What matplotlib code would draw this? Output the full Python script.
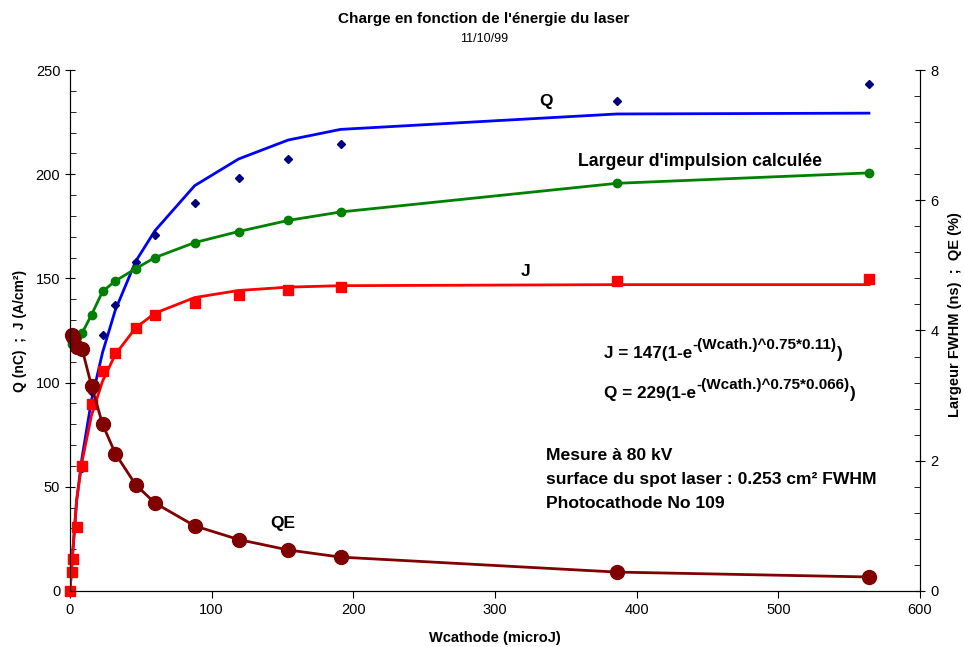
import numpy as np
import matplotlib
matplotlib.use("Agg")
import matplotlib.pyplot as plt
from matplotlib.ticker import MultipleLocator

plt.rcParams['font.family'] = ['Liberation Sans', 'DejaVu Sans']

# energie cathode (microJ)
w = [0, 1.2, 2.2, 4.7, 8.5, 15.2, 23, 32, 46.4, 60, 88, 119, 154, 191, 386, 564]

# charge mesuree Q (nC) et courbe d'ajustement
q_mes = [0, 9, 15, 30, 59, 95.6, 122.8, 137, 158, 171, 186.3, 198.2, 207.3, 214.5, 235, 243.3]
q_fit = [0, 11.3, 20.5, 43.5, 64, 91.6, 114.5, 134.8, 158.2, 172.9, 194.5, 207.3, 216.4, 221.5, 228.9, 229.3]

# densite de courant J (A/cm2) et ajustement
j_mes = [0, 9.3, 15.5, 30.9, 60, 89.7, 105.7, 114, 126.3, 132.6, 138, 142.2, 144.4, 145.9, 148.7, 149.7]
j_fit = [0, 11.9, 21.3, 43.5, 62, 84.3, 100.7, 113.5, 126.3, 133.3, 140.8, 144.2, 145.8, 146.5, 147, 147]

# axe de droite : largeur FWHM (ns) et QE (%)
w2 = w[1:]
largeur = [3.80, 3.84, 3.90, 3.96, 4.24, 4.60, 4.76, 4.95, 5.12, 5.35, 5.52, 5.69, 5.82, 6.26, 6.42]
qe = [3.93, 3.90, 3.75, 3.72, 3.15, 2.56, 2.11, 1.63, 1.35, 1.0, 0.79, 0.63, 0.52, 0.29, 0.215]

fig = plt.figure(figsize=(9.64, 6.47), dpi=100)
ax = fig.add_axes([0.0726, 0.0866, 0.8817, 0.8052])
ax2 = ax.twinx()

ax.plot(w, q_fit, color='#0000FF', lw=2, zorder=3)
ax.plot(w, q_mes, ls='none', marker='D', ms=4.5, color='#000080', zorder=4, clip_on=False)
ax.plot(w, j_fit, color='#FF0000', lw=2, zorder=3)
ax.plot(w, j_mes, ls='none', marker='s', ms=6.5, color='#FF0000', zorder=5, clip_on=False)

ax2.plot(w2, largeur, color='#008000', lw=2, marker='o', ms=6, clip_on=False)
ax2.plot(w2, qe, color='#800000', lw=2, marker='o', ms=10, clip_on=False)

ax.set_xlim(0, 600)
ax.set_ylim(0, 250)
ax2.set_ylim(0, 8)
ax.xaxis.set_major_locator(MultipleLocator(100))
ax.yaxis.set_major_locator(MultipleLocator(50))
ax.yaxis.set_minor_locator(MultipleLocator(10))
ax2.yaxis.set_major_locator(MultipleLocator(2))
ax2.yaxis.set_minor_locator(MultipleLocator(0.4))

for a in (ax, ax2):
    a.spines['top'].set_visible(False)
    a.tick_params(axis='y', which='major', direction='inout', length=7, labelsize=10.5)
    a.tick_params(axis='y', which='minor', direction='in', length=4)
ax.tick_params(axis='x', direction='out', length=5, labelsize=10.5)
ax2.tick_params(axis='y', pad=4)

ax.set_xlabel("Wcathode (microJ)", fontsize=10.5, fontweight='bold', labelpad=10)
ax.set_ylabel("Q (nC)  ;  J (A/cm²)", fontsize=10, fontweight='bold', labelpad=6)
fig.text(955 / 964, 1 - 315 / 647, "Largeur FWHM (ns)  ;  QE (%)", rotation=90,
         ha='center', va='center', fontsize=10.5, fontweight='bold')

fig.text(0.502, 0.970, "Charge en fonction de l'énergie du laser", ha='center', va='center',
         fontsize=11, fontweight='bold')
fig.text(0.502, 0.940, "11/10/99", ha='center', va='center', fontsize=9)

# etiquettes des courbes
ax.text(336, 235, "Q", fontsize=12.5, fontweight='bold', ha='center', va='center')
ax.text(444.7, 205.9, "Largeur d'impulsion calculée", fontsize=12.7, fontweight='bold',
        ha='center', va='center')
ax.text(321.9, 153.1, "J", fontsize=12.5, fontweight='bold', ha='center', va='center')
ax.text(150, 32.5, "QE", fontsize=12.5, fontweight='bold', ha='center', va='center')


def formule(y, debut, exposant):
    t = ax.text(377, y, debut, fontsize=12.3, fontweight='bold', va='baseline')
    s = ax.annotate(exposant, xy=(1, 0.6), xycoords=t, fontsize=11, fontweight='bold',
                    va='bottom', ha='left')
    ax.annotate(")", xy=(1, 0), xycoords=(s, t), fontsize=12.3, fontweight='bold',
                va='bottom', ha='left')


formule(111.8, "J = 147(1-e", "-(Wcath.)^0.75*0.11)")
formule(92.6, "Q = 229(1-e", "-(Wcath.)^0.75*0.066)")

ax.text(336, 63, "Mesure à 80 kV", fontsize=12.6, fontweight='bold')
ax.text(336, 51.3, "surface du spot laser : 0.253 cm² FWHM", fontsize=12.6, fontweight='bold')
ax.text(336, 39.8, "Photocathode No 109", fontsize=12.6, fontweight='bold')

plt.savefig("out.png", dpi=100)
